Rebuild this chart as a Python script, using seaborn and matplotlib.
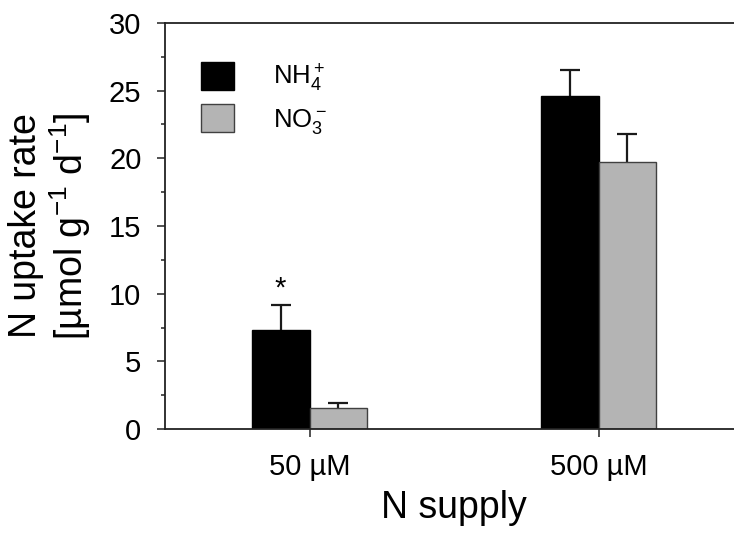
import pandas as pd
import seaborn as sns
import matplotlib.pyplot as plt
import numpy as np
from matplotlib.patches import Patch
from matplotlib.ticker import MultipleLocator

# data
supply = ['50 µM', '500 µM']
ions = ['NH$_4^+$', 'NO$_3^-$']
nh4_mean = [7.3, 24.6]
nh4_err = [1.85, 1.9]
no3_mean = [1.55, 19.7]
no3_err = [0.35, 2.1]
star_y = 10.4

colors = ['black', '#b4b4b4']
edges = ['black', '#404040']

df = pd.DataFrame({
    'supply': supply * 2,
    'ion': [ions[0]] * 2 + [ions[1]] * 2,
    'rate': nh4_mean + no3_mean,
    'err': nh4_err + no3_err,
})

sns.set_style('ticks')
plt.rcParams['font.family'] = ['Liberation Sans', 'DejaVu Sans']
plt.rcParams['mathtext.default'] = 'regular'
plt.rcParams['text.color'] = 'black'
plt.rcParams['axes.labelcolor'] = 'black'
plt.rcParams['xtick.labelcolor'] = 'black'
plt.rcParams['ytick.labelcolor'] = 'black'

fig = plt.figure(figsize=(7.34, 5.33), dpi=100)
ax = fig.add_axes([165 / 734, 104 / 533, 578 / 734, 406 / 533])

sns.barplot(data=df, x='supply', y='rate', hue='ion', hue_order=ions,
            palette=colors, width=0.4, errorbar=None, legend=False,
            saturation=1, ax=ax)

# upper error bars only: stem + top cap
for cont, ion, ec in zip(ax.containers, ions, edges):
    sub = df[df['ion'] == ion]
    xs = [b.get_x() + b.get_width() / 2 for b in cont]
    for b in cont:
        b.set_edgecolor(ec)
        b.set_linewidth(1.0)
        b.set_zorder(2)
    tops = sub['rate'] + sub['err']
    ax.vlines(xs, sub['rate'], tops, color='#1a1a1a', linewidth=1.6, zorder=1)
    ax.plot(xs, tops, ls='none', marker='_', markersize=14, mew=1.6,
            color='#1a1a1a', zorder=1)

# significance star
star_x = ax.containers[0][0].get_x() + ax.containers[0][0].get_width() / 2
ax.text(star_x, star_y, '*', ha='center', va='center', fontsize=21)

ax.set_xlim(-0.5, 1.5)
ax.set_ylim(0, 30)
ax.yaxis.set_major_locator(MultipleLocator(5))
ax.yaxis.set_minor_locator(MultipleLocator(2.5))
ax.tick_params(axis='both', which='major', labelsize=21, length=6, width=1.1,
               pad=11, color='#222222')
ax.tick_params(axis='y', which='minor', length=2.8, width=1.1, color='#222222')

for s in ['left', 'bottom', 'top']:
    ax.spines[s].set_visible(True)
    ax.spines[s].set_linewidth(1.3)
    ax.spines[s].set_color('#222222')
ax.spines['right'].set_visible(False)

ax.set_xlabel('N supply', fontsize=27)
ax.xaxis.set_label_coords(0.5, -0.15)
ax.set_ylabel('N uptake rate\n[µmol g$^{-1}$ d$^{-1}$]', fontsize=27,
              linespacing=1.1)
ax.yaxis.set_label_coords(-0.125, 0.5)

handles = [Patch(facecolor=c, edgecolor=e, linewidth=1.0)
           for c, e in zip(colors, edges)]
ax.legend(handles, ions, loc='upper left', bbox_to_anchor=(0.062, 0.905),
          frameon=False, fontsize=18.5, handlelength=1.3, handleheight=1.3,
          handletextpad=1.5, labelspacing=0.4, borderpad=0, borderaxespad=0)

fig.savefig('out.png', dpi=100)
